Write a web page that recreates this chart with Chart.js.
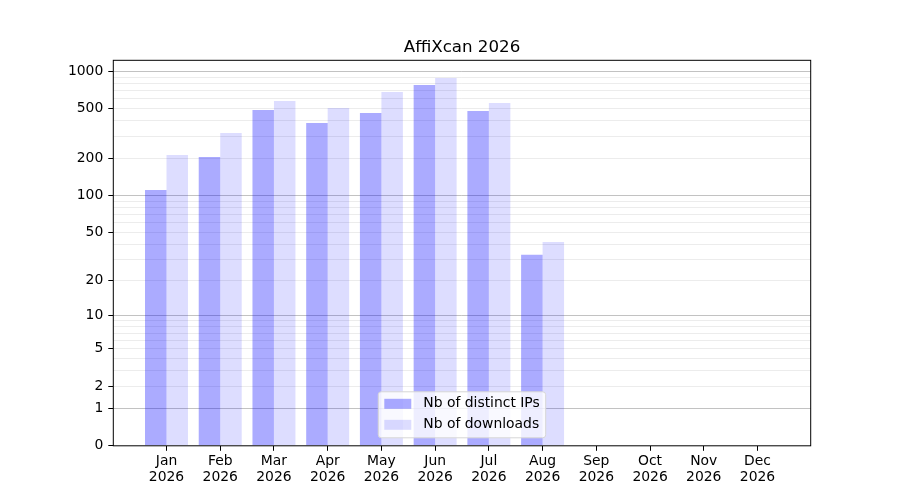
<!DOCTYPE html>
<html>
<head>
<meta charset="utf-8">
<script src="https://cdn.jsdelivr.net/npm/chart.js@4.4.1/dist/chart.umd.min.js"></script>
<style>
    html, body { margin: 0; padding: 0; background: #fff; }
    #wrap { width: 900px; height: 500px; }
</style>
</head>
<body>
<div id="wrap"><canvas id="chart"></canvas></div>
<script>
const months = ['Jan', 'Feb', 'Mar', 'Apr', 'May', 'Jun', 'Jul', 'Aug', 'Sep', 'Oct', 'Nov', 'Dec']
const year = '2026'
const distinctIps = [111, 205, 490, 385, 463, 777, 481, 33, 0, 0, 0, 0]
const downloads = [213, 320, 579, 508, 683, 884, 557, 42, 0, 0, 0, 0]
const yLabelled = [0, 1, 2, 5, 10, 20, 50, 100, 200, 500, 1000]
const yMajor = [1, 10, 100, 1000]
const yGrid = [0, 1, 2, 3, 4, 5, 6, 7, 8, 9, 10, 20, 30, 40, 50, 60, 70, 80, 90,
    100, 200, 300, 400, 500, 600, 700, 800, 900, 1000]

const FONT = 'DejaVu Sans'

// y axis uses log10(1 + v), like the reference
const fwd = v => Math.log10(1 + Math.max(v, 0))
const inv = t => Math.pow(10, t) - 1

class Log1pScale extends Chart.LinearScale {
    buildTicks() {
        return yGrid.map(v => ({ value: v }))
    }
    configure() {
        super.configure()
        this._tStart = fwd(this.min)
        this._tRange = fwd(this.max) - this._tStart
    }
    getPixelForValue(value) {
        if (value === null || value === undefined) return NaN
        return this.getPixelForDecimal((fwd(value) - this._tStart) / this._tRange)
    }
    getValueForPixel(pixel) {
        return inv(this.getDecimalForPixel(pixel) * this._tRange + this._tStart)
    }
}
Log1pScale.id = 'log1p'
Log1pScale.defaults = {}
Chart.register(Log1pScale)

const frame = {
    id: 'frame',
    afterDatasetsDraw(chart) {
        const { ctx, chartArea: a } = chart
        ctx.save()
        ctx.strokeStyle = '#000'
        ctx.lineWidth = 1
        ctx.strokeRect(a.left, a.top, a.right - a.left, a.bottom - a.top)
        ctx.restore()
    }
}

// legend box drawn inside the plot, lower centre
const innerLegend = {
    id: 'innerLegend',
    afterDraw(chart) {
        const { ctx, chartArea: a } = chart
        const sets = chart.data.datasets
        ctx.save()
        ctx.font = '13.9px "' + FONT + '"'
        const textW = Math.max(...sets.map(s => ctx.measureText(s.label).width))
        const w = 6 + 27 + 12 + textW + 6
        const h = 46
        const x = (a.left + a.right) / 2 - w / 2
        const y = a.bottom - 8 - h
        ctx.beginPath()
        ctx.roundRect(x, y, w, h, 3)
        ctx.fillStyle = 'rgba(255,255,255,0.8)'
        ctx.fill()
        ctx.strokeStyle = '#d6d6d6'
        ctx.lineWidth = 1
        ctx.stroke()
        sets.forEach((s, i) => {
            const cy = y + 12 + i * 21
            ctx.fillStyle = s.backgroundColor
            ctx.fillRect(x + 6, cy - 5, 27, 10)
            ctx.fillStyle = '#000'
            ctx.textBaseline = 'middle'
            ctx.fillText(s.label, x + 45, cy)
        })
        ctx.restore()
    }
}

const points = arr => arr.map((v, i) => ({ x: i, y: v }))

new Chart(document.getElementById('chart'), {
    type: 'bar',
    data: {
        datasets: [{
            label: 'Nb of distinct IPs',
            data: points(distinctIps),
            backgroundColor: 'rgba(0,0,255,0.33)',
        }, {
            label: 'Nb of downloads',
            data: points(downloads),
            backgroundColor: 'rgba(0,0,255,0.135)',
        }]
    },
    options: {
        responsive: true,
        maintainAspectRatio: false,
        animation: false,
        categoryPercentage: 0.8,
        barPercentage: 1.0,
        layout: { padding: { left: 0, right: 89.3, top: 0, bottom: 0 } },
        plugins: {
            legend: { display: false },
            tooltip: { enabled: false },
            title: {
                display: true,
                text: 'AffiXcan 2026',
                fullSize: false,
                color: '#000',
                font: { family: FONT, size: 16.67, weight: 'normal', lineHeight: 1.2 },
                padding: { top: 37.5, bottom: 2.8 }
            }
        },
        scales: {
            x: {
                type: 'linear',
                min: -0.99,
                max: 11.99,
                offset: false,
                afterBuildTicks: scale => {
                    scale.ticks = months.map((m, i) => ({ value: i }))
                },
                afterFit: scale => { scale.height = 54.2 },
                border: { display: false },
                grid: {
                    offset: false,
                    drawOnChartArea: false,
                    drawTicks: true,
                    tickLength: 5,
                    tickColor: '#000'
                },
                ticks: {
                    autoSkip: false,
                    maxRotation: 0,
                    padding: 3,
                    color: '#000',
                    font: { family: FONT, size: 13.9, lineHeight: 1.13 },
                    callback: v => [months[v], year]
                }
            },
            y: {
                type: 'log1p',
                min: 0,
                max: 1226,
                afterFit: scale => { scale.width = 113.3 },
                border: { display: false },
                grid: {
                    drawTicks: true,
                    tickLength: 5,
                    color: ctx => {
                        const v = ctx.tick && ctx.tick.value
                        if (v === 0) return 'rgba(0,0,0,0)'
                        return yMajor.includes(v) ? '#c2c2c2' : '#ececec'
                    },
                    tickColor: ctx => yLabelled.includes(ctx.tick && ctx.tick.value) ? '#000' : 'rgba(0,0,0,0)'
                },
                ticks: {
                    autoSkip: false,
                    padding: 5,
                    color: '#000',
                    font: { family: FONT, size: 13.9 },
                    callback: v => yLabelled.includes(v) ? String(v) : ''
                }
            }
        }
    },
    plugins: [frame, innerLegend]
})
</script>
</body>
</html>
